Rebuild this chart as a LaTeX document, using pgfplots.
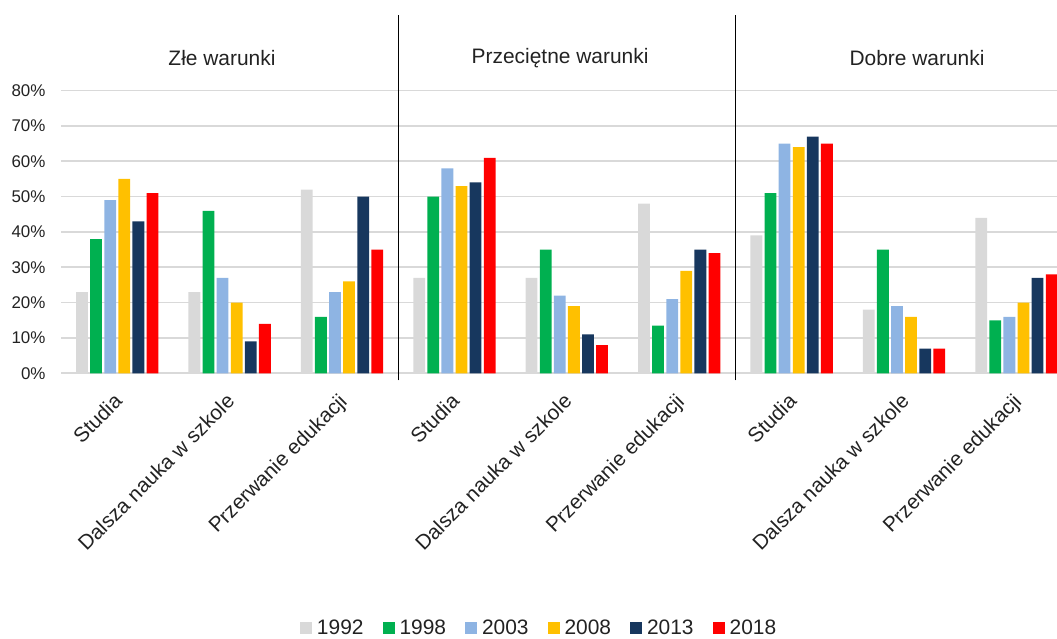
\documentclass[border=0pt]{standalone}
\usepackage{fontspec}
\setmainfont{Liberation Sans}
\usepackage{pgfplots}
\usepackage{pgfplotstable}
\pgfplotsset{compat=1.18}
\definecolor{c92}{HTML}{D9D9D9}
\definecolor{c98}{HTML}{00B050}
\definecolor{c03}{HTML}{8EB4E3}
\definecolor{c08}{HTML}{FFC000}
\definecolor{c13}{HTML}{17375E}
\definecolor{c18}{HTML}{FF0000}
\definecolor{gridc}{HTML}{D9D9D9}
\definecolor{txt}{HTML}{222222}
\pgfplotsset{/pgfplots/ybar legend/.style={/pgfplots/legend image code/.code={\fill[##1] (0bp,-6bp) rectangle (12bp,6bp);}}}
\pgfplotstableread{
x y92 y98 y03 y08 y13 y18
0 23 38 49 55 43 51
1 23 46 27 20 9 14
2 52 16 23 26 50 35
3 27 50 58 53 54 61
4 27 35 22 19 11 8
5 48 13.5 21 29 35 34
6 39 51 65 64 67 65
7 18 35 19 16 7 7
8 44 15 16 20 27 28
}\datatable
\begin{document}
\begin{tikzpicture}
\useasboundingbox (0,0) rectangle (1057bp,639bp);
\begin{axis}[
  at={(61bp,265.7bp)}, anchor=south west,
  scale only axis, width=996bp, height=358.3bp,
  xmin=-0.5, xmax=8.361, ymin=0, ymax=101.4,
  clip=false,
  ybar=2.3bp, bar width=11.8bp,
  axis line style={draw=none},
  major tick length=0pt,
  ymajorgrids=true, xmajorgrids=false,
  grid style={gridc, line width=1.6bp},
  xtick={0,...,8},
  xticklabels={Studia,Dalsza nauka w szkole,Przerwanie edukacji,Studia,Dalsza nauka w szkole,Przerwanie edukacji,Studia,Dalsza nauka w szkole,Przerwanie edukacji},
  xticklabel style={rotate=45, anchor=north east, font=\fontsize{20.8}{24}\selectfont, text=txt, inner sep=2bp, xshift=-14.3bp, yshift=-8bp},
  ytick={0,10,...,80},
  yticklabels={0\%,10\%,20\%,30\%,40\%,50\%,60\%,70\%,80\%},
  yticklabel style={anchor=east, font=\fontsize{17}{20}\selectfont, text=txt, xshift=-12bp},
  legend columns=6,
  legend style={draw=none, at={(axis description cs:0.48,-0.712)}, anchor=center,
    font=\fontsize{21}{25}\selectfont, text=txt, inner sep=0pt,
    /tikz/every odd column/.append style={column sep=3bp},
    /tikz/every even column/.append style={column sep=17bp}},
]
\addplot[fill=c92, draw=none] table[x=x,y=y92] {\datatable};
\addplot[fill=c98, draw=none] table[x=x,y=y98] {\datatable};
\addplot[fill=c03, draw=none] table[x=x,y=y03] {\datatable};
\addplot[fill=c08, draw=none] table[x=x,y=y08] {\datatable};
\addplot[fill=c13, draw=none] table[x=x,y=y13] {\datatable};
\addplot[fill=c18, draw=none] table[x=x,y=y18] {\datatable};
\legend{1992,1998,2003,2008,2013,2018}
\draw[black, line width=1.2bp] (axis cs:2.5,-2) -- (axis cs:2.5,101.4);
\draw[black, line width=1.2bp] (axis cs:5.5,-2) -- (axis cs:5.5,101.4);
\node[font=\fontsize{21}{25}\selectfont, text=txt] at (axis cs:0.932,89.2) {Złe warunki};
\node[font=\fontsize{21}{25}\selectfont, text=txt] at (axis cs:3.94,89.2) {Przeciętne warunki};
\node[font=\fontsize{21}{25}\selectfont, text=txt] at (axis cs:7.116,89.2) {Dobre warunki};
\end{axis}
\end{tikzpicture}
\end{document}
